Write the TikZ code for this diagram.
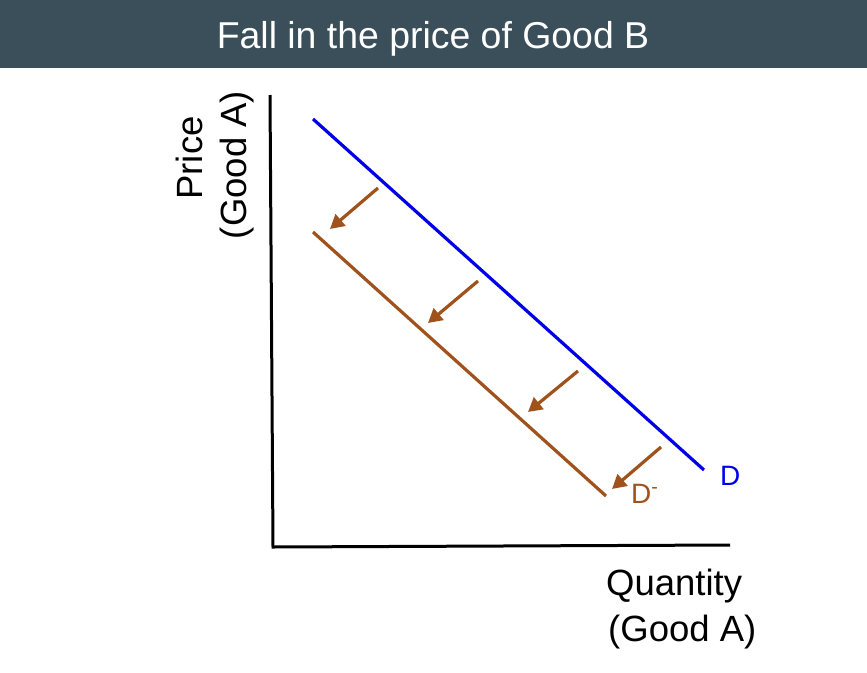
\documentclass[tikz,border=0pt]{standalone}
\usepackage{fontspec}
\setmainfont{Liberation Sans}
\usetikzlibrary{arrows.meta}
\definecolor{barcol}{HTML}{3A4F59}
\definecolor{dblue}{HTML}{0000E8}
\definecolor{dbrown}{HTML}{A0521C}
\tikzset{
  axisline/.style={line width=3pt, black},
  dline/.style={line width=3.2pt, dblue},
  dmline/.style={line width=3.2pt, dbrown},
  shiftarrow/.style={line width=3.2pt, dbrown, -{Triangle[length=14pt,width=15pt]}},
  lbl/.style={inner sep=0pt, anchor=base, font=\fontsize{36.5}{42}\selectfont},
}
\begin{document}
\begin{tikzpicture}[x=1pt,y=-1pt]
\useasboundingbox (0,0) rectangle (867,672);
\fill[barcol] (0,0) rectangle (867,68);
\node[inner sep=0pt, anchor=base, text=white, font=\fontsize{37.4}{42}\selectfont] (title) at (433,48) {Fall in the price of Good B};
% axes
\coordinate (ytop) at (270,95);
\coordinate (orig) at (273,547);
\coordinate (xend) at (730,545);
\draw[axisline] (ytop) -- (orig) -- (xend);
% curves
\coordinate (d1) at (313,119);
\coordinate (d2) at (704,470);
\coordinate (m1) at (313,232);
\coordinate (m2) at (606,496);
\draw[dline] (d1) -- (d2);
\draw[dmline] (m1) -- (m2);
% shift arrows
\coordinate (a1s) at (378,188); \coordinate (a1e) at (330,229);
\coordinate (a2s) at (478,281); \coordinate (a2e) at (428,323);
\coordinate (a3s) at (578,371); \coordinate (a3e) at (528,412);
\coordinate (a4s) at (661,447); \coordinate (a4e) at (612,489);
\draw[shiftarrow] (a1s) -- (a1e);
\draw[shiftarrow] (a2s) -- (a2e);
\draw[shiftarrow] (a3s) -- (a3e);
\draw[shiftarrow] (a4s) -- (a4e);
% labels
\node[inner sep=0pt, anchor=base west, text=dblue, font=\fontsize{28}{32}\selectfont] (dlab) at (720,485) {D};
\node[inner sep=0pt, anchor=base west, text=dbrown, font=\fontsize{28}{32}\selectfont] (dmlab) at (631,503) {D\textsuperscript{-}};
\node[lbl, anchor=base west] (q1) at (606,595) {Quantity};
\node[lbl, anchor=base west] (q2) at (608,641) {(Good A)};
\node[lbl, rotate=90] (p1) at (202,158) {Price};
\node[lbl, rotate=90] (p2) at (246,165) {(Good A)};
\end{tikzpicture}
\end{document}
